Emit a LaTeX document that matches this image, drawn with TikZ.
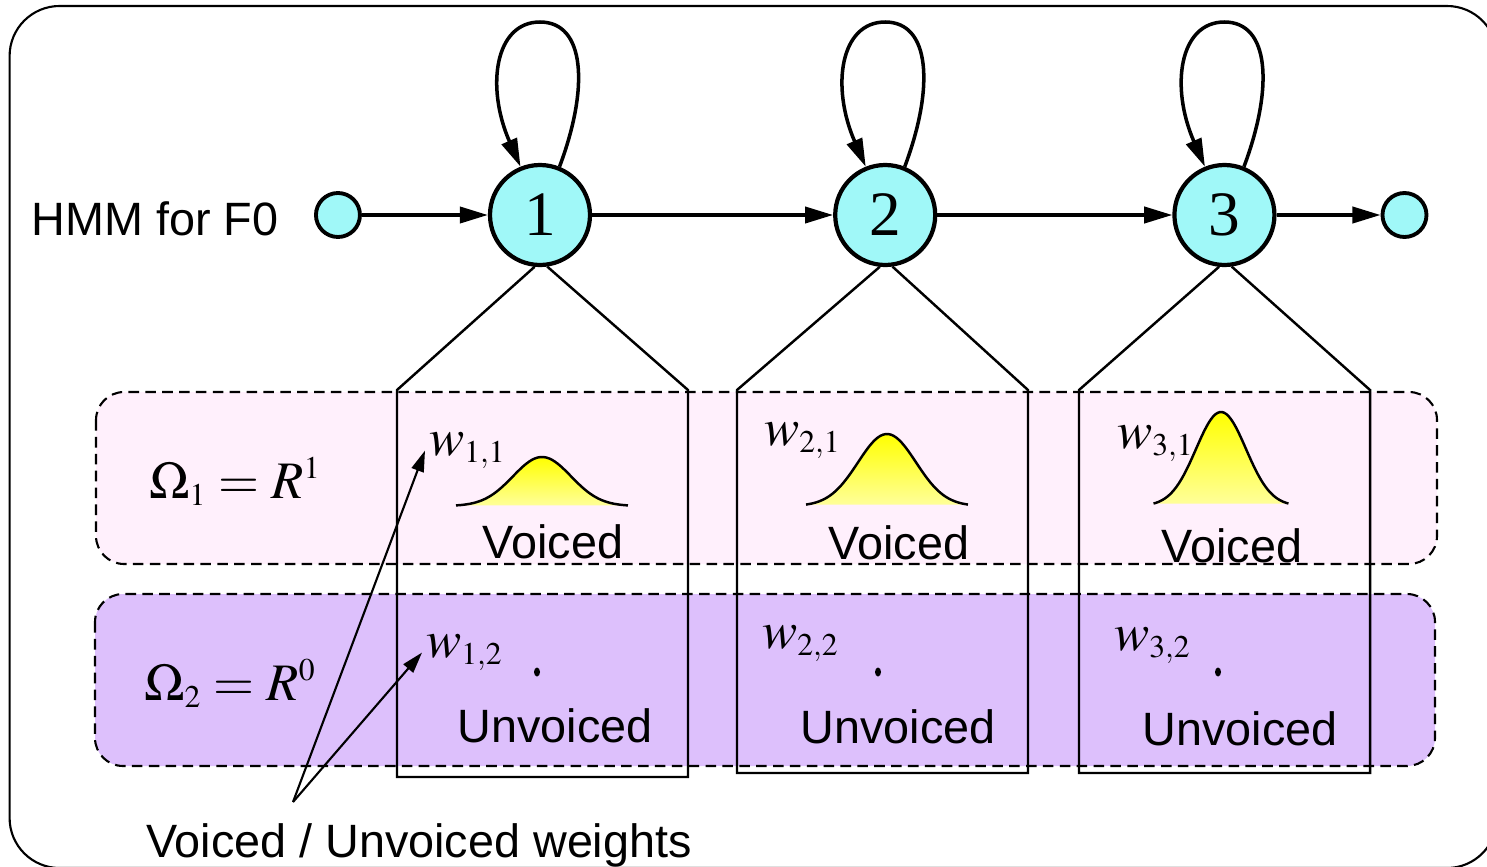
\documentclass[tikz,border=0pt]{standalone}
\usepackage{mathptmx}
\usepackage{fontspec}
\setmainfont{Liberation Serif}
\setsansfont{Liberation Sans}
\usetikzlibrary{positioning,arrows.meta}
\DeclareMathSizes{15}{15}{9}{7}
\definecolor{stfill}{HTML}{A0F8F8}
\definecolor{vband}{HTML}{FFF0FC}
\definecolor{uband}{HTML}{DDC0FC}
\newcommand\gaussbump[5]{%
  \shade[top color=yellow, bottom color=yellow!40!white]
    plot[domain=-#3:#3, samples=60] ({#1+\x},{#2+#4*exp(-0.5*(\x/#5)*(\x/#5))}) -- cycle;
  \draw[line width=0.7pt]
    plot[domain=-#3:#3, samples=60] ({#1+\x},{#2+#4*exp(-0.5*(\x/#5)*(\x/#5))});
}
\tikzset{
  state/.style={circle, draw, line width=1.2pt, fill=stfill, minimum size=1cm, inner sep=0pt, font=\fontsize{18}{18}\selectfont},
  term/.style={circle, draw, line width=1.1pt, fill=stfill, minimum size=4.4mm, inner sep=0pt},
  tr/.style={-{Triangle[length=8pt,width=4.6pt]}, line width=1pt},
  cell/.style={line width=0.7pt},
  band/.style={draw, dashed, dash pattern=on 3pt off 1.8pt, line width=0.6pt, rounded corners=8pt},
  lbl/.style={font=\sffamily\fontsize{13.3}{14}\selectfont, inner sep=0pt},
  mth/.style={font=\fontsize{15}{15}\selectfont, inner sep=1pt, anchor=base west},
  wt/.style={-{Triangle[length=6pt,width=3.6pt]}, line width=0.6pt},
}

\begin{document}
\begin{tikzpicture}
\useasboundingbox (0,0) rectangle (14.87,-8.66);
\clip (0,0) rectangle (14.87,-8.66);
\draw[line width=0.6pt, rounded corners=0.5cm] (0.096,-0.06) rectangle (14.97,-8.68);
% the two output spaces
\draw[band, fill=vband] (0.96,-3.92) rectangle (14.37,-5.64);
\draw[band, fill=uband] (0.95,-5.94) rectangle (14.35,-7.66);
% states
\node[state] (s1) at (5.40,-2.15) {1};
\node[state, right=2.41cm of s1] (s2) {2};
\node[state, right=2.35cm of s2] (s3) {3};
\node[term, left=1.26cm of s1] (ini) {};
\node[term, right=1.04cm of s3] (fin) {};
\node[lbl, anchor=base west] (hmm) at (0.31,-2.35) {HMM for F0};
\draw[tr] (ini) -- (s1);
\draw[tr] (s1) -- (s2);
\draw[tr] (s2) -- (s3);
\draw[tr] (s3) -- (fin);
\foreach \s in {s1,s2,s3}
  \draw[tr] (\s.68) .. controls +(0.3,0.8) and +(0.45,0) .. ([yshift=1.93cm]\s.center)
    .. controls +(-0.45,0) and +(-0.35,0.8) .. (\s.112);
% output distributions of each state
\foreach \s/\l/\b in {s1/3.97/7.77, s2/7.37/7.73, s3/10.79/7.73}
  \draw[cell] (\s.-96) -- (\l,-3.90) -- (\l,-\b) -- (\l+2.91,-\b) -- (\l+2.91,-3.90) -- (\s.-82);
\gaussbump{5.42}{-5.06}{0.86}{0.49}{0.29}
\gaussbump{8.87}{-5.06}{0.81}{0.72}{0.29}
\gaussbump{12.21}{-5.06}{0.675}{0.94}{0.25}
\fill (5.37,-6.72) ellipse (0.03 and 0.045);
\fill (8.78,-6.72) ellipse (0.03 and 0.045);
\fill (12.18,-6.72) ellipse (0.03 and 0.045);
\node[mth] (om1) at (1.45,-4.98) {$\Omega_1 = R^1$};
\node[mth] (om2) at (1.40,-7.00) {$\Omega_2 = R^0$};
\node[mth] (w11) at (4.25,-4.55) {$w_{1,1}$};
\node[mth] (w12) at (4.22,-6.57) {$w_{1,2}$};
\node[mth] (w21) at (7.60,-4.45) {$w_{2,1}$};
\node[mth] (w22) at (7.58,-6.48) {$w_{2,2}$};
\node[mth] (w31) at (11.13,-4.48) {$w_{3,1}$};
\node[mth] (w32) at (11.10,-6.50) {$w_{3,2}$};
\node[lbl, anchor=base] (v1) at (5.53,-5.58) {Voiced};
\node[lbl, anchor=base] (v2) at (8.99,-5.59) {Voiced};
\node[lbl, anchor=base] (v3) at (12.32,-5.62) {Voiced};
\node[lbl, anchor=base] (u1) at (5.55,-7.42) {Unvoiced};
\node[lbl, anchor=base] (u2) at (8.98,-7.43) {Unvoiced};
\node[lbl, anchor=base] (u3) at (12.40,-7.45) {Unvoiced};
% weights
\node[lbl, anchor=base] (vul) at (4.19,-8.57) {Voiced / Unvoiced weights};
\coordinate (vu) at (2.93,-8.02);
\draw[wt] (vu) -- (w11.west);
\draw[wt] (vu) -- (w12.west);
\end{tikzpicture}
\end{document}
